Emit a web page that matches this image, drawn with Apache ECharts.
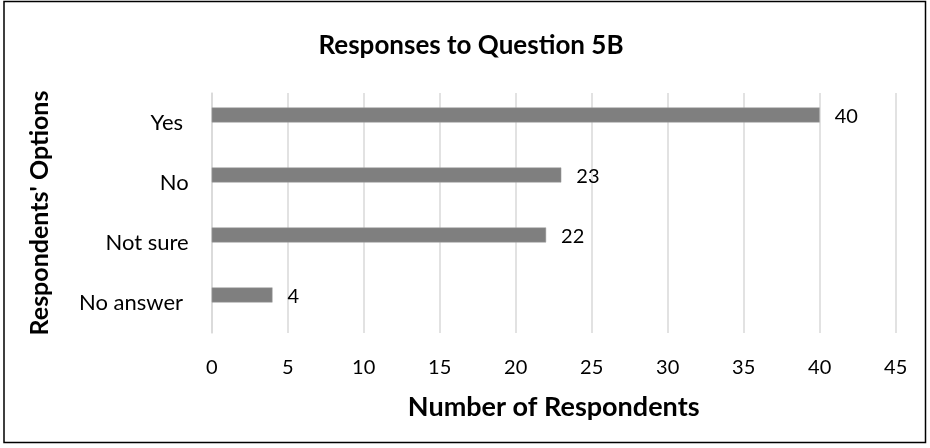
<!DOCTYPE html>
<html>
<head>
<meta charset="utf-8">
<script src="https://cdn.jsdelivr.net/npm/echarts@6/dist/echarts.min.js"></script>
<style>html,body{margin:0;padding:0;background:#fff}#c{width:930px;height:448px}</style>
</head>
<body>
<div id="c"></div>
<script>
const titleText = "Responses to Question 5B";
const categories = ["No answer ", "Not sure", "No", "Yes "];
const values = [4, 22, 23, 40];
const emptyValues = ["-", "-", "-", "-"];
const xName = "Number of Respondents";
const yName = "Respondents' Options";
const xMin = 0, xMax = 45, xStep = 5;

const font = "Lato, 'Open Sans', sans-serif";
const chart = echarts.init(document.getElementById('c'), null, {renderer: 'canvas'});
chart.setOption({
  backgroundColor: '#fff',
  animation: false,
  title: {
    text: titleText, left: 466, top: 28, textAlign: 'center',
    textStyle: {fontFamily: font, fontSize: 26, fontWeight: 'bold', color: '#000'}
  },
  graphic: [{
    type: 'rect', shape: {x: 4, y: 1.5, width: 921.5, height: 441},
    style: {fill: 'none', stroke: '#000', lineWidth: 1.5}, silent: true
  }, {
    type: 'text', x: 40, y: 213, rotation: Math.PI / 2,
    style: {text: yName, fontFamily: font, fontSize: 25, fontWeight: 'bold', fill: '#000',
            align: 'center', verticalAlign: 'middle'}
  }],
  grid: {left: 211.7, width: 684, top: 93, height: 240, containLabel: false},
  xAxis: {
    type: 'value', min: xMin, max: xMax, interval: xStep,
    name: xName, nameLocation: 'middle', nameGap: 61,
    nameTextStyle: {fontFamily: font, fontSize: 27, fontWeight: 'bold', color: '#000'},
    axisLine: {show: false}, axisTick: {show: false},
    axisLabel: {margin: 25, fontFamily: font, fontSize: 20, color: '#000'},
    splitLine: {show: true, lineStyle: {color: '#d9d9d9', width: 1.5}}
  },
  yAxis: {
    type: 'category', data: categories,
    axisLine: {show: true, lineStyle: {color: '#d9d9d9', width: 1.5}},
    axisTick: {show: false},
    axisLabel: {margin: 23, fontFamily: font, fontSize: 22, color: '#000'}
  },
  series: [{
    type: 'bar', data: values, barWidth: 15, barGap: '7%',
    itemStyle: {color: '#7f7f7f', borderColor: '#a0a0a0', borderWidth: 0.5},
    label: {show: true, position: 'right', distance: 15, fontFamily: font, fontSize: 20, color: '#000',
            verticalAlign: 'middle', offset: [0, 2]}
  }, {
    type: 'bar', data: emptyValues, barWidth: 15, barGap: '7%', silent: true
  }]
});
</script>
</body>
</html>
